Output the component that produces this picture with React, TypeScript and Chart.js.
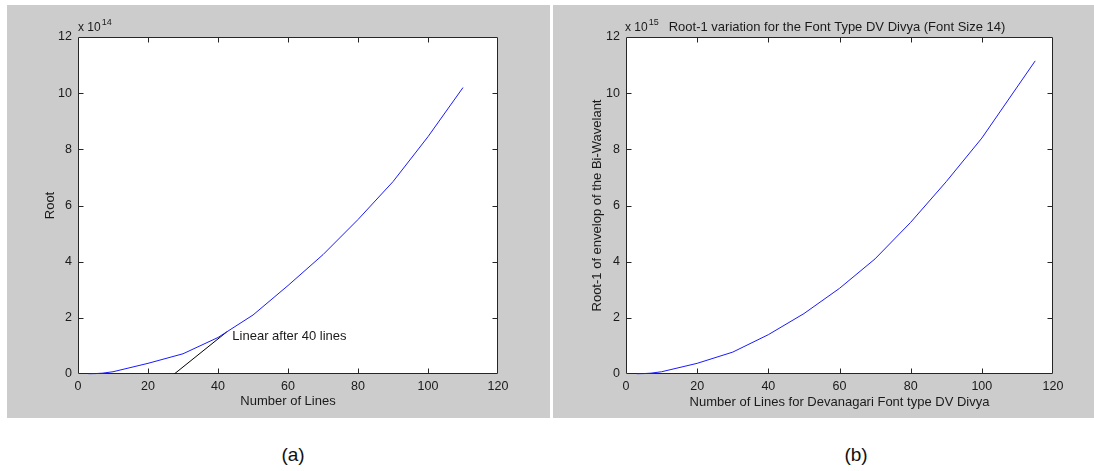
import React, { useEffect, useRef } from 'react';
import { Chart, registerables } from 'chart.js';
Chart.register(...registerables);

// ---- data ----
const xTickStep = 20;
const xMin = 0;
const xMax = 120;
const yTickStep = 2;
const yMin = 0;
const yMax = 12;

// Panel (a): Root (x 10^14) vs number of lines
const rootLines = [3, 5, 7, 10, 20, 30, 40, 50, 60, 70, 80, 90, 100, 110];
const rootValues = [0.01, 0.015, 0.03, 0.08, 0.38, 0.72, 1.3, 2.1, 3.15, 4.25, 5.5, 6.85, 8.45, 10.2];
const linearLines = [27.5, 42.5];
const linearValues = [0, 1.5];
const linearLabel = 'Linear after 40 lines';
const linearLabelAt = [44.1, 1.33];
const rootExponent = '14';

// Panel (b): Root-1 (x 10^15) vs number of lines
const root1Lines = [3, 5, 7, 10, 20, 30, 40, 50, 60, 70, 80, 90, 100, 115];
const root1Values = [0.01, 0.015, 0.03, 0.08, 0.38, 0.78, 1.4, 2.15, 3.05, 4.1, 5.4, 6.85, 8.4, 11.15];
const root1Exponent = '15';
const root1Title = 'Root-1 variation for the Font Type DV Divya (Font Size 14)';

const FONT = "'Liberation Sans', Arial, Helvetica, sans-serif";
const TEXT = '#1a1a1a';

function pts(xs: number[], ys: number[]) {
  return xs.map((x, i) => ({ x, y: ys[i] }));
}

const boxPlugin = {
  id: 'matlabBox',
  beforeDraw(chart: any) {
    const { ctx, chartArea: a } = chart;
    ctx.save();
    ctx.fillStyle = '#ffffff';
    ctx.fillRect(a.left, a.top, a.right - a.left, a.bottom - a.top);
    ctx.restore();
  },
  beforeDatasetsDraw(chart: any) {
    const { ctx, chartArea: a, scales } = chart;
    const sx = scales.x;
    const sy = scales.y;
    ctx.save();
    ctx.strokeStyle = '#262626';
    ctx.lineWidth = 1;
    const L = Math.round(a.left) + 0.5;
    const R = Math.round(a.right) - 0.5;
    const T = Math.round(a.top) + 0.5;
    const B = Math.round(a.bottom) - 0.5;
    ctx.beginPath();
    ctx.moveTo(L, T);
    ctx.lineTo(R, T);
    ctx.lineTo(R, B);
    ctx.lineTo(L, B);
    ctx.closePath();
    ctx.stroke();
    const tl = 5;
    ctx.beginPath();
    sx.ticks.forEach((t: any) => {
      const p = Math.round(sx.getPixelForValue(t.value)) + 0.5;
      if (p <= L + 1 || p >= R - 1) return;
      ctx.moveTo(p, B);
      ctx.lineTo(p, B - tl);
      ctx.moveTo(p, T);
      ctx.lineTo(p, T + tl);
    });
    sy.ticks.forEach((t: any) => {
      const p = Math.round(sy.getPixelForValue(t.value)) + 0.5;
      if (p <= T + 1 || p >= B - 1) return;
      ctx.moveTo(L, p);
      ctx.lineTo(L + tl, p);
      ctx.moveTo(R, p);
      ctx.lineTo(R - tl, p);
    });
    ctx.stroke();
    ctx.restore();
  },
  afterDraw(chart: any) {
    const { ctx, chartArea: a, scales } = chart;
    const sx = scales.x;
    const sy = scales.y;
    const opts = chart.options.plugins.matlabBox || {};
    ctx.save();
    ctx.fillStyle = TEXT;
    ctx.textBaseline = 'alphabetic';
    ctx.textAlign = 'left';
    ctx.font = `12px ${FONT}`;
    let x = a.left + (opts.expDx || 0);
    const baseY = a.top - 6;
    ctx.fillText('x 10', x, baseY);
    x += ctx.measureText('x 10').width + 1;
    ctx.font = `9px ${FONT}`;
    ctx.fillText(opts.exponent || '', x, baseY - 6);
    x += ctx.measureText(opts.exponent || '').width;
    if (opts.title) {
      ctx.font = `13px ${FONT}`;
      ctx.fillText(opts.title, x + 10, baseY);
    }
    if (opts.note) {
      ctx.font = `13px ${FONT}`;
      ctx.textBaseline = 'middle';
      ctx.fillText(opts.note, sx.getPixelForValue(opts.noteAt[0]), sy.getPixelForValue(opts.noteAt[1]));
    }
    ctx.restore();
  },
};

type PanelProps = {
  left: number;
  top: number;
  width: number;
  height: number;
  areaLeft: number;
  areaTop: number;
  areaRight: number;
  areaBottom: number;
  datasets: any[];
  xTitle: string;
  yTitle: string;
  xTitlePad: number;
  yTitlePad: number;
  box: any;
};

function Panel(p: PanelProps) {
  const ref = useRef<HTMLCanvasElement | null>(null);
  useEffect(() => {
    if (!ref.current) return;
    const tickFont = { family: FONT, size: 12.5 };
    const titleFont = { family: FONT, size: 13 };
    const chart = new Chart(ref.current, {
      type: 'line',
      data: { datasets: p.datasets },
      plugins: [boxPlugin],
      options: {
        animation: false,
        responsive: false,
        maintainAspectRatio: false,
        layout: { padding: { top: p.areaTop, right: p.width - p.areaRight, left: 0, bottom: 0 } },
        plugins: {
          legend: { display: false },
          tooltip: { enabled: false },
          matlabBox: p.box,
        } as any,
        elements: { point: { radius: 0 }, line: { tension: 0 } },
        scales: {
          x: {
            type: 'linear',
            min: xMin,
            max: xMax,
            afterFit: (s: any) => {
              s.height = p.height - p.areaBottom;
            },
            ticks: { stepSize: xTickStep, color: TEXT, font: tickFont, padding: 5, maxRotation: 0, autoSkip: false },
            grid: { display: false, drawTicks: false },
            border: { display: false },
            title: { display: true, text: p.xTitle, color: TEXT, font: titleFont, padding: { top: 0, bottom: p.xTitlePad } },
          },
          y: {
            type: 'linear',
            min: yMin,
            max: yMax,
            afterFit: (s: any) => {
              s.width = p.areaLeft;
            },
            ticks: { stepSize: yTickStep, color: TEXT, font: tickFont, padding: 6, autoSkip: false },
            grid: { display: false, drawTicks: false },
            border: { display: false },
            title: { display: true, text: p.yTitle, color: TEXT, font: titleFont, padding: { top: p.yTitlePad, bottom: 0 } },
          },
        },
      } as any,
    });
    return () => chart.destroy();
  }, []);
  return (
    <canvas
      ref={ref}
      width={p.width}
      height={p.height}
      style={{ position: 'absolute', left: p.left, top: p.top, width: p.width, height: p.height, background: '#cccccc' }}
    />
  );
}

export default function App() {
  const blue = '#1a1aff';
  const captionStyle: React.CSSProperties = {
    position: 'absolute',
    top: 443,
    width: 60,
    textAlign: 'center',
    fontFamily: FONT,
    fontSize: 19,
    color: '#111',
    lineHeight: '24px',
  };
  return (
    <div style={{ position: 'absolute', left: 0, top: 0, width: 1094, height: 471, background: '#ffffff', overflow: 'hidden' }}>
      <Panel
        left={7}
        top={5}
        width={543}
        height={413}
        areaLeft={71}
        areaTop={32}
        areaRight={491}
        areaBottom={369}
        xTitle="Number of Lines"
        yTitle="Root"
        xTitlePad={8.5}
        yTitlePad={36}
        box={{ exponent: rootExponent, note: linearLabel, noteAt: linearLabelAt }}
        datasets={[
          { data: pts(rootLines, rootValues), borderColor: blue, borderWidth: 1, pointRadius: 0, fill: false, clip: 2 },
          { data: pts(linearLines, linearValues), borderColor: '#000000', borderWidth: 1, pointRadius: 0, fill: false },
        ]}
      />
      <Panel
        left={553}
        top={5}
        width={541}
        height={413}
        areaLeft={73}
        areaTop={32}
        areaRight={500}
        areaBottom={369}
        xTitle="Number of Lines for Devanagari Font type DV Divya"
        yTitle="Root-1 of envelop of the Bi-Wavelant"
        xTitlePad={8}
        yTitlePad={36.5}
        box={{ exponent: root1Exponent, title: root1Title, expDx: -1 }}
        datasets={[
          { data: pts(root1Lines, root1Values), borderColor: blue, borderWidth: 1, pointRadius: 0, fill: false, clip: 2 },
        ]}
      />
      <div style={{ ...captionStyle, left: 293 - 30 }}>(a)</div>
      <div style={{ ...captionStyle, left: 856 - 30 }}>(b)</div>
    </div>
  );
}
